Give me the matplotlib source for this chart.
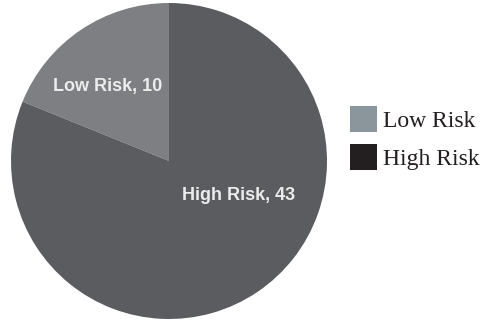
import matplotlib
matplotlib.use("Agg")
import matplotlib.pyplot as plt
from matplotlib.patches import Rectangle

# Data
categories = ["Low Risk", "High Risk"]
values = [10, 43]
slice_colors = ["#7d7f83", "#5b5c60"]
legend_colors = ["#8a969b", "#231f20"]

W, H = 482, 321
fig = plt.figure(figsize=(W / 100, H / 100), dpi=100)
fig.patch.set_facecolor("white")

# Pie axes, sized in pixels
cx, cy, r = 169, 161, 158
ax = fig.add_axes([(cx - r) / W, (H - cy - r) / H, 2 * r / W, 2 * r / H])
ax.pie(values, colors=slice_colors, startangle=90, counterclock=True,
       radius=1.0, wedgeprops=dict(linewidth=0))
ax.set_xlim(-1, 1)
ax.set_ylim(-1, 1)
ax.set_aspect("auto")
ax.axis("off")

# Slice labels
label_pos = [(-0.39, 0.47), (0.44, -0.22)]
for cat, val, (x, y) in zip(categories, values, label_pos):
    ax.text(x, y, f"{cat}, {val}", ha="center", va="center", color="#ececec",
            fontsize=13, fontweight="bold", family="Liberation Sans")

# Legend: swatches and serif labels, placed in pixel units
box_x, box_w, box_h = 350, 27, 26
row_top = [106, 144]
for cat, col, top in zip(categories, legend_colors, row_top):
    fig.add_artist(Rectangle((box_x / W, 1 - (top + box_h) / H), box_w / W, box_h / H,
                             transform=fig.transFigure, facecolor=col,
                             edgecolor="none"))
    fig.text(383 / W, 1 - (top + 21) / H, cat, ha="left", va="baseline",
             fontsize=17, family="Liberation Serif", color="#231f20")

fig.savefig("out.png", dpi=100, facecolor="white")
